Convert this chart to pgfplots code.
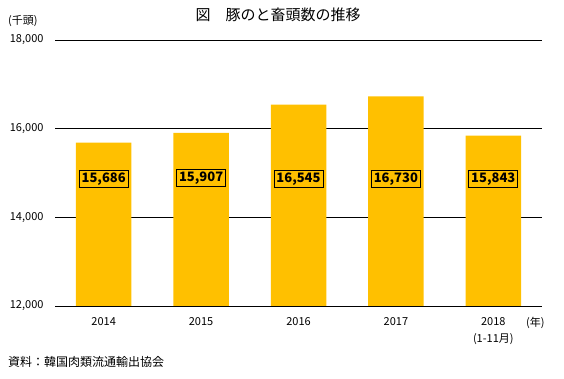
\documentclass[border=0pt]{standalone}
\usepackage{fontspec}
\setmainfont{Noto Sans CJK JP}
\usepackage{pgfplots}
\pgfplotsset{compat=1.18}
\definecolor{barcolor}{HTML}{FFC000}
\begin{document}
\begin{tikzpicture}
\useasboundingbox (0pt,0pt) rectangle (564pt,379pt);
\begin{axis}[at={(55pt,73pt)}, anchor=south west, scale only axis,
  width=487pt, height=266pt,
  xmin=-0.5, xmax=4.5, ymin=12000, ymax=18000,
  scaled y ticks=false,
  ytick={12000,14000,16000,18000},
  yticklabels={{12,000},{14,000},{16,000},{18,000}},
  xtick={0,1,2,3,4},
  xticklabels={2014,2015,2016,2017,{2018\\(1-11月)}},
  ymajorgrids, grid style={black, line width=0.8pt},
  axis line style={draw=none},
  tick style={draw=none},
  yticklabel style={font=\fontsize{11}{12}\selectfont, xshift=-8pt},
  xticklabel style={font=\fontsize{11}{17}\selectfont, align=center, yshift=-8pt, anchor=north},
  /pgf/number format/assume math mode=true,
]
\addplot[ybar, bar width=55.5pt, fill=barcolor, draw=none]
  coordinates {(0,15686) (1,15907) (2,16545) (3,16730) (4,15843)};
\draw[black!20, line width=0.8pt] (rel axis cs:0,0) -- (rel axis cs:1,0);
\begin{scope}[every node/.style={draw=black, line width=0.8pt, fill=barcolor, inner sep=2.5pt, font=\bfseries\fontsize{13}{14}\selectfont}]
\node at (axis cs:0,14865) {15,686};
\node at (axis cs:1,14890) {15,907};
\node at (axis cs:2,14865) {16,545};
\node at (axis cs:3,14865) {16,730};
\node at (axis cs:4,14865) {15,843};
\end{scope}
\end{axis}
\node[anchor=center, font=\fontsize{15}{16}\selectfont] at (278pt,364pt) {図　豚のと畜頭数の推移};
\node[anchor=west, inner sep=0, font=\fontsize{11}{12}\selectfont] at (8pt,358pt) {(千頭)};
\node[anchor=west, inner sep=0, font=\fontsize{11}{12}\selectfont] at (526pt,56pt) {(年)};
\node[anchor=west, inner sep=0, font=\fontsize{12}{13}\selectfont] at (8pt,17pt) {資料：韓国肉類流通輸出協会};
\end{tikzpicture}
\end{document}
